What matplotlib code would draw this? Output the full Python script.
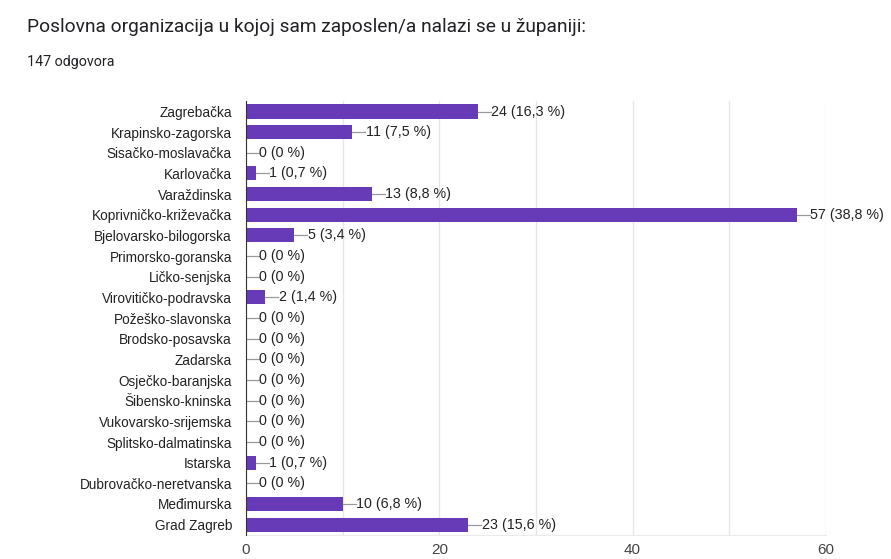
import numpy as np
import matplotlib.pyplot as plt
from matplotlib.ticker import MultipleLocator

zupanije = ['Zagrebačka', 'Krapinsko-zagorska', 'Sisačko-moslavačka', 'Karlovačka',
            'Varaždinska', 'Koprivničko-križevačka', 'Bjelovarsko-bilogorska',
            'Primorsko-goranska', 'Ličko-senjska', 'Virovitičko-podravska',
            'Požeško-slavonska', 'Brodsko-posavska', 'Zadarska', 'Osječko-baranjska',
            'Šibensko-kninska', 'Vukovarsko-srijemska', 'Splitsko-dalmatinska',
            'Istarska', 'Dubrovačko-neretvanska', 'Međimurska', 'Grad Zagreb']
odgovori = [24, 11, 0, 1, 13, 57, 5, 0, 0, 2, 0, 0, 0, 0, 0, 0, 0, 1, 0, 10, 23]
postoci = ['16,3', '7,5', '0', '0,7', '8,8', '38,8', '3,4', '0', '0', '1,4', '0', '0',
           '0', '0', '0', '0', '0', '0,7', '0', '6,8', '15,6']

fig = plt.figure(figsize=(8.91, 5.59), dpi=100)
ax = fig.add_axes([0.276, 0.043, 0.651, 0.776])

y = np.arange(len(zupanije))
ax.barh(y, odgovori, height=0.68, color='#673ab7', zorder=3)

# kratka siva crta od kraja stupca do oznake
for yi, v, p in zip(y, odgovori, postoci):
    ax.plot([v, v + 1.35], [yi, yi], color='#999999', lw=0.9, zorder=3)
    ax.text(v + 1.4, yi, f'{v} ({p} %)', va='center', ha='left',
            fontsize=10.3, color='#222222', family='Liberation Sans')

ax.set_xlim(0, 60)
ax.set_ylim(len(zupanije) - 0.5, -0.5)
ax.set_yticks(y)
ax.set_yticklabels(zupanije, family='Liberation Sans', fontsize=9.8, color='#222222')
ax.xaxis.set_major_locator(MultipleLocator(20))
ax.xaxis.set_minor_locator(MultipleLocator(10))
ax.tick_params(axis='x', which='both', length=0, labelsize=11, colors='#444444', pad=6)
ax.tick_params(axis='y', length=0, pad=10)
for lab in ax.get_xticklabels():
    lab.set_family('Liberation Sans')
ax.grid(axis='x', which='both', color='#e6e6e6', lw=1, zorder=0)
for s in ['top', 'right']:
    ax.spines[s].set_visible(False)
ax.spines['bottom'].set_color('#ebebeb')
ax.spines['left'].set_color('#333333')
ax.spines['left'].set_zorder(4)

fig.text(0.030, 0.952, 'Poslovna organizacija u kojoj sam zaposlen/a nalazi se u županiji:',
         fontsize=13.8, family='Roboto', color='#202124', va='center')
fig.text(0.030, 0.889, '147 odgovora', fontsize=10.3, family='Roboto', color='#202124', va='center')

plt.savefig('out.png', dpi=100)
